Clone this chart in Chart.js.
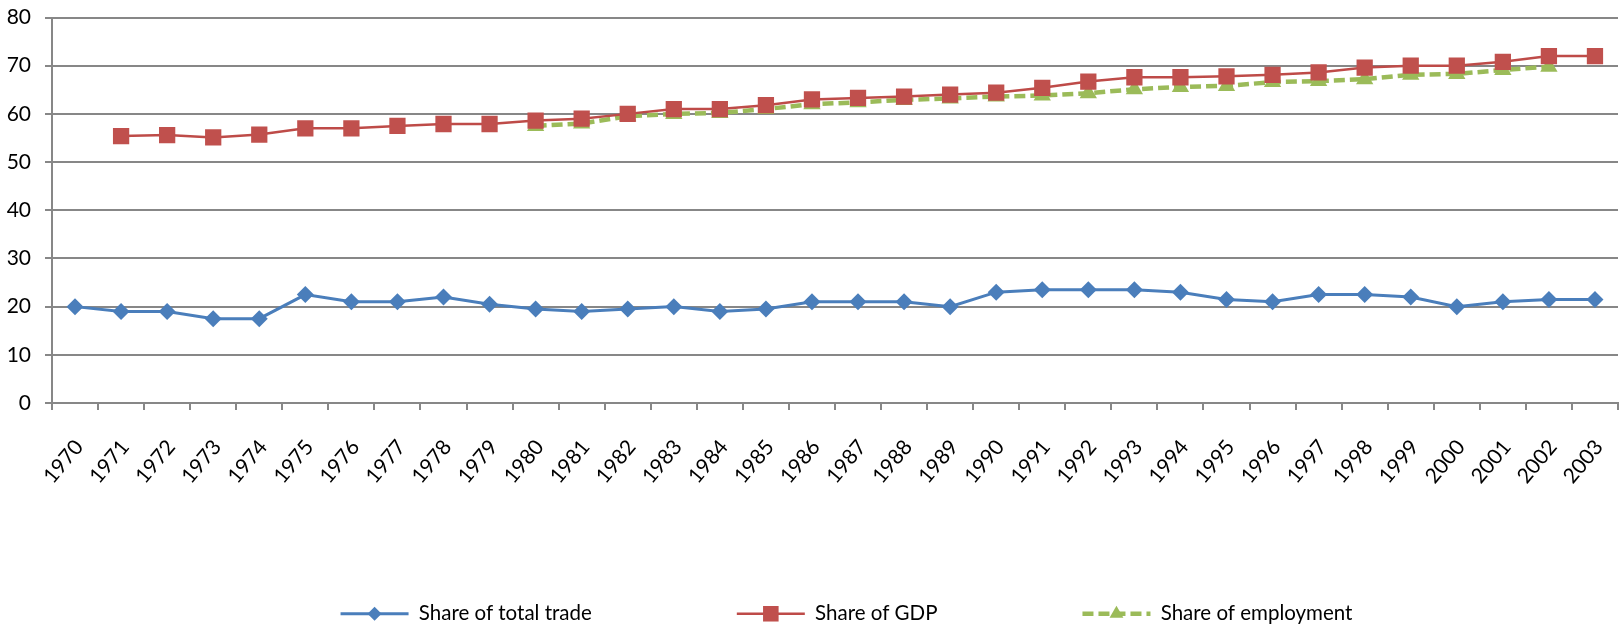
<!DOCTYPE html>
<html>
<head>
<meta charset="utf-8">
<script src="https://cdn.jsdelivr.net/npm/chart.js@4"></script>
<style>
  html, body { margin: 0; padding: 0; background: #fff; }
  #wrap { width: 1623px; height: 634px; }
</style>
</head>
<body>
<div id="wrap"><canvas id="myChart" width="1623" height="634"></canvas></div>
<script>
// categories
const years = ['1970','1971','1972','1973','1974','1975','1976','1977','1978','1979',
  '1980','1981','1982','1983','1984','1985','1986','1987','1988','1989',
  '1990','1991','1992','1993','1994','1995','1996','1997','1998','1999',
  '2000','2001','2002','2003'];

// series values
const shareTrade = [20, 19, 19, 17.5, 17.5, 22.5, 21, 21, 22, 20.5,
  19.5, 19, 19.5, 20, 19, 19.5, 21, 21, 21, 20,
  23, 23.5, 23.5, 23.5, 23, 21.5, 21, 22.5, 22.5, 22,
  20, 21, 21.5, 21.5];
const shareGDP = [null, 55.4, 55.6, 55.1, 55.7, 57, 57, 57.5, 57.9, 57.9,
  58.6, 59, 60, 61, 61, 61.8, 63, 63.3, 63.6, 64,
  64.4, 65.4, 66.7, 67.6, 67.6, 67.8, 68.1, 68.6, 69.6, 70,
  70, 70.8, 72, 72];
const shareEmployment = [null, null, null, null, null, null, null, null, null, null,
  57.5, 58, 59.5, 60, 60.2, 61, 62, 62.4, 62.9, 63.2,
  63.6, 63.8, 64.3, 65.1, 65.6, 65.8, 66.6, 66.8, 67.2, 68.1,
  68.3, 69.1, 69.8, null];

// y ticks
const yMin = 0, yMax = 80, yStep = 10;

const FONT = 'Lato, "Noto Sans", sans-serif';
const GRID = '#878787';
const LEGEND_GAP = 135;   // empty space kept in front of each legend line
const LEGEND_LINE = 68;   // length of the legend sample line
const LEGEND_SHIFT = -30; // nudge the legend row sideways

// move the legend row a bit and draw Excel-like legend samples (line + marker)
const legendMarkers = {
  id: 'legendMarkers',
  afterLayout(chart) {
    const lg = chart.legend;
    if (!lg) return;
    lg.left += LEGEND_SHIFT;
    lg.right += LEGEND_SHIFT;
  },
  afterDraw(chart) {
    const lg = chart.legend;
    if (!lg || !lg.legendHitBoxes) return;
    const ctx = chart.ctx;
    lg.legendHitBoxes.forEach(function (hb, i) {
      const ds = chart.data.datasets[i];
      const y = hb.top + hb.height / 2;
      const x0 = hb.left + LEGEND_GAP;
      ctx.save();
      ctx.strokeStyle = ds.borderColor;
      ctx.lineWidth = ds.borderWidth;
      ctx.setLineDash(ds.borderDash || []);
      ctx.beginPath();
      ctx.moveTo(x0, y);
      ctx.lineTo(x0 + LEGEND_LINE, y);
      ctx.stroke();
      ctx.setLineDash([]);
      ctx.fillStyle = ds.pointBackgroundColor;
      ctx.strokeStyle = ds.pointBorderColor;
      Chart.helpers.drawPoint(ctx, {
        pointStyle: ds.pointStyle,
        radius: ds.legendRadius,
        rotation: 0,
        borderWidth: 0
      }, x0 + LEGEND_LINE / 2, y);
      ctx.restore();
    });
  }
};

const ctx = document.getElementById('myChart');

new Chart(ctx, {
  type: 'line',
  data: {
    labels: years,
    datasets: [
      {
        label: 'Share of total trade',
        data: shareTrade,
        borderColor: '#4A7EBB',
        borderWidth: 3,
        pointStyle: 'rectRot',
        pointRadius: 8.5,
        pointBackgroundColor: '#4A7EBB',
        pointBorderColor: '#4A7EBB',
        pointBorderWidth: 0,
        legendRadius: 7,
        tension: 0
      },
      {
        label: 'Share of GDP',
        data: shareGDP,
        borderColor: '#BE4B48',
        borderWidth: 2.5,
        pointStyle: 'rect',
        pointRadius: 11.5,
        pointBackgroundColor: '#C0504D',
        pointBorderColor: '#C0504D',
        pointBorderWidth: 0,
        legendRadius: 11,
        tension: 0
      },
      {
        label: 'Share of employment',
        data: shareEmployment,
        borderColor: '#9BBB59',
        borderWidth: 4.5,
        borderDash: [11, 5],
        pointStyle: 'triangle',
        pointRadius: 10,
        pointBackgroundColor: '#9BBB59',
        pointBorderColor: '#9BBB59',
        pointBorderWidth: 0,
        legendRadius: 8,
        tension: 0
      }
    ]
  },
  options: {
    responsive: false,
    animation: false,
    layout: { autoPadding: false, padding: { top: 17.5, right: 5, left: 0, bottom: 0 } },
    plugins: {
      legend: {
        position: 'bottom',
        labels: {
          boxWidth: LEGEND_GAP + LEGEND_LINE,
          boxHeight: 4,
          padding: 10,
          color: '#000',
          font: { family: FONT, size: 20.5 },
          generateLabels: function (chart) {
            const items = Chart.defaults.plugins.legend.labels.generateLabels(chart);
            items.forEach(function (it) {
              it.fillStyle = 'rgba(0,0,0,0)';
              it.strokeStyle = 'rgba(0,0,0,0)';
              it.lineWidth = 0;
              it.lineDash = [];
            });
            return items;
          }
        }
      },
      tooltip: { enabled: false },
      title: { display: false }
    },
    scales: {
      x: {
        offset: true,
        grid: {
          offset: true,
          drawOnChartArea: false,
          drawTicks: true,
          tickLength: 7,
          color: GRID,
          lineWidth: 2
        },
        border: { color: GRID, width: 2 },
        ticks: {
          autoSkip: false,
          minRotation: 50,
          maxRotation: 50,
          color: '#000',
          padding: 25,
          labelOffset: 4,
          font: { family: FONT, size: 21 }
        },
        afterFit: function (scale) {
          const lgH = scale.chart.legend ? scale.chart.legend.height : 0;
          scale.height = 634 - 403 - lgH;
          scale.paddingLeft = 0;
          scale.paddingRight = 0;
        }
      },
      y: {
        min: yMin,
        max: yMax,
        ticks: {
          stepSize: yStep,
          color: '#000',
          padding: 14,
          font: { family: FONT, size: 21 }
        },
        grid: {
          color: GRID,
          lineWidth: 2,
          drawTicks: true,
          tickLength: 7
        },
        border: { color: GRID, width: 2 },
        afterFit: function (scale) {
          scale.width = 52;
          scale.paddingTop = 0;
          scale.paddingBottom = 0;
        }
      }
    }
  },
  plugins: [legendMarkers]
});
</script>
</body>
</html>
